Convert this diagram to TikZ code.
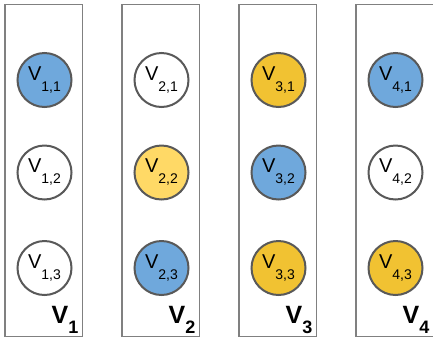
\documentclass[tikz,border=0pt]{standalone}
\usepackage{fontspec}
\setmainfont{Liberation Sans}
\begin{document}
\begin{tikzpicture}[x=1pt,y=-1pt,
  column/.style={draw=black!50,line width=1.3pt},
  vertex/.style={circle,draw=black!65,line width=2pt,minimum size=54pt,inner sep=0pt,
    font=\fontsize{20}{20}\selectfont},
  blue/.style={fill=cblue},
  gold/.style={fill=cgold},
  pale/.style={fill=cpale},
  none/.style={fill=white},
  setlabel/.style={anchor=south east,inner sep=0pt,font=\fontsize{25}{25}\selectfont\bfseries}]
\definecolor{cblue}{HTML}{6FA8DC}
\definecolor{cgold}{HTML}{F1C232}
\definecolor{cpale}{HTML}{FFD966}
\useasboundingbox (0,0) rectangle (433,338);
\newcommand{\vlab}[2]{V\raisebox{-11pt}{\fontsize{14}{14}\selectfont #1,#2}}
\newcommand{\slab}[1]{V\raisebox{-10pt}{\fontsize{18}{18}\selectfont\bfseries #1}}
% the four vertex sets
\foreach \i in {1,...,4}{
  \pgfmathsetmacro{\xl}{5+117*(\i-1)}
  \pgfmathsetmacro{\xr}{\xl+77.5}
  \draw[column] (\xl,4.5) rectangle (\xr,336.5);
  \node[setlabel] (S\i) at (\xr-4,334) {\slab{\i}};
}
% vertices, coloured by class
\foreach \i/\j/\c in {1/1/blue,1/2/none,1/3/none,
                      2/1/none,2/2/pale,2/3/blue,
                      3/1/gold,3/2/blue,3/3/gold,
                      4/1/blue,4/2/none,4/3/gold}{
  \pgfmathsetmacro{\yc}{\j==1 ? 80 : (\j==2 ? 172.5 : 268)}
  \node[vertex,\c] (v\i\j) at ({44.5+117*(\i-1)},\yc) {\vlab{\i}{\j}};
}
\end{tikzpicture}
\end{document}
